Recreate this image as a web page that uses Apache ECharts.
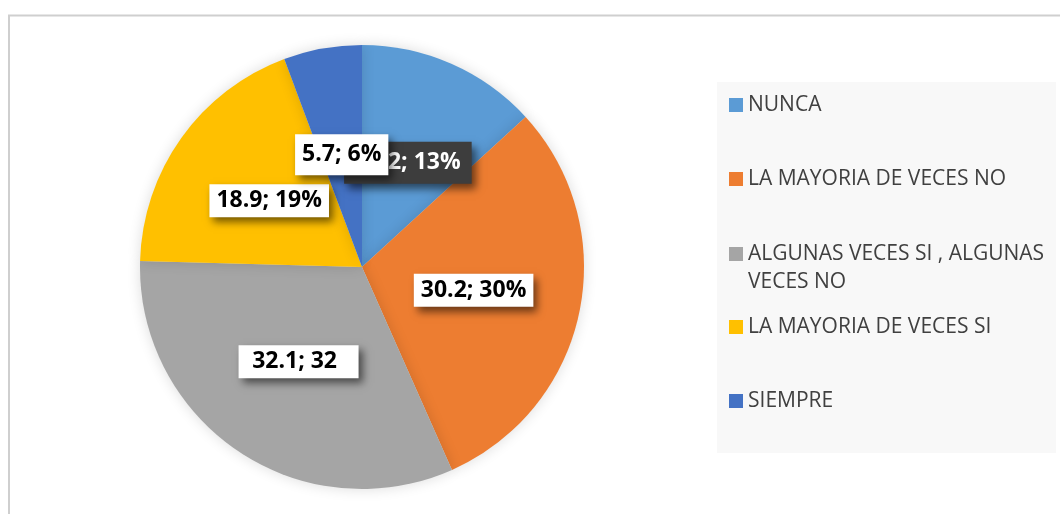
<!DOCTYPE html>
<html>
<head>
<meta charset="utf-8">
<script src="https://cdn.jsdelivr.net/npm/echarts@6/dist/echarts.min.js"></script>
<style>
  html, body { margin: 0; padding: 0; background: #fff; }
  #main { width: 1060px; height: 514px; }
</style>
</head>
<body>
<div id="main"></div>
<script>
// categorias y valores (%)
var categorias = ['NUNCA', 'LA MAYORIA DE VECES NO', 'ALGUNAS VECES SI , ALGUNAS VECES NO', 'LA MAYORIA DE VECES SI', 'SIEMPRE'];
var valores = [13.2, 30.2, 32.1, 18.9, 5.7];
var colores = ['#5B9BD5', '#ED7D31', '#A5A5A5', '#FFC000', '#4472C4'];

// posiciones de cada entrada de la leyenda
var legendTops = [91, 165, 212, 313, 387];

var myChart = echarts.init(document.getElementById('main'));

var datos = categorias.map(function (c, i) {
  var item = { name: c, value: valores[i], itemStyle: { color: colores[i] } };
  if (i === 0) {
    // etiqueta oscura (seleccionada en el original)
    item.label = { backgroundColor: '#3d3d3d', color: '#fff', padding: [10, 11, 9, 11] };
  }
  if (i === 2) {
    // la etiqueta sale cortada en el original
    item.label = { width: 98, overflow: 'truncate', ellipsis: '', padding: [5, 15, 5, 7], align: 'left' };
  }
  if (i === 4) {
    item.label = { padding: [9, 7, 9, 7] };
  }
  return item;
});

var leyendas = categorias.map(function (c, i) {
  return {
    data: [c],
    orient: 'vertical',
    left: 729,
    top: legendTops[i],
    padding: 0,
    icon: 'rect',
    itemWidth: 14,
    itemHeight: 14,
    selectedMode: false,
    formatter: function (name) {
      // linea vacia arriba para que el icono quede en la primera linea
      return name.replace(', ALGUNAS VECES NO', ', ALGUNAS\nVECES NO').replace(/^(ALGUNAS)/, '\n$1');
    },
    textStyle: {
      fontFamily: 'Open Sans',
      fontSize: 21,
      color: '#404040',
      lineHeight: 28
    }
  };
});

var option = {
  backgroundColor: '#fff',
  animation: false,
  graphic: [
    {
      type: 'rect',
      shape: { x: 9, y: 15.5, width: 1100, height: 600 },
      style: { fill: null, stroke: '#cfcfcf', lineWidth: 2 }
    },
    {
      type: 'rect',
      shape: { x: 717, y: 82, width: 339, height: 371 },
      style: { fill: '#f8f8f8' }
    }
  ],
  legend: leyendas,
  series: [
    {
      type: 'pie',
      center: [362, 267],
      radius: 222,
      startAngle: 90,
      clockwise: true,
      avoidLabelOverlap: false,
      labelLayout: { hideOverlap: false },
      itemStyle: {
        shadowBlur: 14,
        shadowColor: 'rgba(0,0,0,0.14)'
      },
      label: {
        show: true,
        position: 'inside',
        formatter: function (p) {
          return p.value + '; ' + Math.round(p.percent) + '%';
        },
        fontFamily: 'Open Sans',
        fontWeight: 'bold',
        fontSize: 23,
        lineHeight: 23,
        color: '#000',
        backgroundColor: '#fff',
        padding: [5, 7, 5, 7],
        shadowColor: 'rgba(0,0,0,0.55)',
        shadowBlur: 8,
        shadowOffsetX: 4,
        shadowOffsetY: 5
      },
      labelLine: { show: false },
      emphasis: { disabled: true },
      data: datos
    }
  ]
};

option && myChart.setOption(option);
</script>
</body>
</html>
